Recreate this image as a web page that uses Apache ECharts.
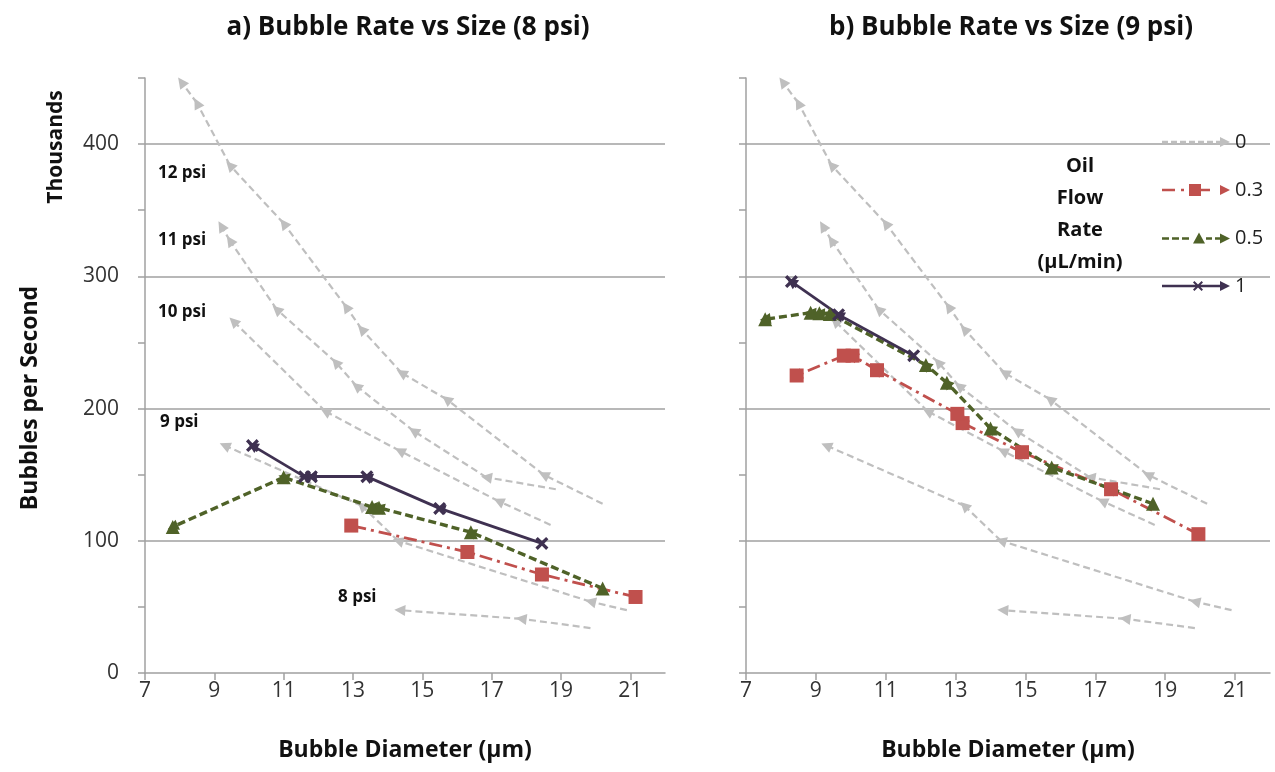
<!DOCTYPE html>
<html>
<head>
<meta charset="utf-8">
<title>Bubble Rate vs Size</title>
<script src="https://cdn.jsdelivr.net/npm/echarts@6/dist/echarts.min.js"></script>
<style>
  html, body { margin: 0; padding: 0; background: #fff; }
  #chart { width: 1275px; height: 772px; }
</style>
</head>
<body>
<div id="chart"></div>
<script>
const FONT = '"Open Sans", Lato, sans-serif'

const xTickValues = [7, 9, 11, 13, 15, 17, 19, 21]
const yLabelValues = [0, 100, 200, 300, 400]
const yTickValues = [0, 50, 100, 150, 200, 250, 300, 350, 400, 450]

// 0 uL/min reference runs (same in both panels), points in drawing order (arrow at each later point)
const psi12 = [[20.2, 128], [18.5, 150], [15.7, 207], [14.4, 227], [13.25, 260], [12.8, 277], [11.0, 340], [9.45, 384], [8.5, 431], [8.05, 447]]
const psi11 = [[18.85, 139], [16.85, 148], [14.75, 183], [13.1, 217], [12.5, 235], [10.8, 275], [9.45, 327], [9.2, 338]]
const psi10 = [[18.7, 112], [17.2, 130], [14.35, 168], [12.2, 198], [9.55, 266]]
const psi9 = [[20.9, 47.5], [19.85, 54], [14.3, 100], [13.25, 126.5], [9.3, 172]]
const psi8 = [[19.85, 34], [17.85, 41], [14.35, 47.5]]

// a) 8 psi
const oil03At8 = [[21.15, 57.5], [18.45, 74.5], [16.3, 91.5], [12.95, 111.5]]
const oil05At8 = [[20.2, 64], [16.4, 106.5], [13.75, 125], [13.55, 125.5], [11.0, 148], [7.8, 110.5]]
const oil1At8 = [[18.45, 98], [15.5, 124.5], [13.4, 148.5], [11.8, 148.5], [11.6, 148.5], [10.1, 172]]

// b) 9 psi
const oil03At9 = [[19.95, 105], [17.45, 139], [14.9, 167], [13.2, 189], [13.05, 196], [10.75, 229], [10.05, 240], [9.8, 240], [8.45, 225]]
const oil05At9 = [[18.65, 128], [15.75, 155.5], [14.0, 185], [12.75, 219.5], [12.15, 233], [9.4, 271.5], [9.1, 272], [8.85, 272.5], [7.55, 267.5]]
const oil1At9 = [[11.8, 240], [9.65, 271], [8.3, 296]]

const psiLabels = ['12 psi', '11 psi', '10 psi', '9 psi', '8 psi']

const GRAY = '#bfbfbf'
const RED = '#c0504d'
const GREEN = '#4f6228'
const PURPLE = '#3f3151'
const AXIS = '#a0a0a0'
const INK = '#111'

const X_MARK = 'path://M0,1.8L1.8,0L5,3.2L8.2,0L10,1.8L6.8,5L10,8.2L8.2,10L5,6.8L1.8,10L0,8.2L3.2,5Z'

// legend icons, drawn in a 68x14 box
const ICON_0 = 'path://M0,5.8h6v2.4h-6zM9,5.8h6v2.4h-6zM18,5.8h6v2.4h-6zM27,5.8h6v2.4h-6zM36,5.8h6v2.4h-6zM45,5.8h6v2.4h-6zM54,5.8h4v2.4h-4zM58,2L68,7L58,12z'
const ICON_03 = 'path://M0,5.8h13v2.4h-13zM19,5.8h3v2.4h-3zM27,1h12v12h-12zM39,5.8h9v2.4h-9zM58,2L68,7L58,12z'
const ICON_05 = 'path://M0,5.8h7v2.4h-7zM10,5.8h7v2.4h-7zM20,5.8h7v2.4h-7zM31,12L37,1L43,12zM44,5.8h6v2.4h-6zM53,5.8h5v2.4h-5zM58,2L68,7L58,12z'
const ICON_1 = 'path://M0,5.8h58v2.4h-58zM31,3.4L32.4,2L36,5.6L39.6,2L41,3.4L37.4,7L41,10.6L39.6,12L36,8.4L32.4,12L31,10.6L34.6,7zM58,2L68,7L58,12z'

function segments(points) {
  const out = []
  for (let i = 1; i < points.length; i++) out.push({ coords: [points[i - 1], points[i]] })
  return out
}

function arrowLines(name, runs, idx, color, width, dash, z) {
  return {
    type: 'lines', name, coordinateSystem: 'cartesian2d',
    xAxisIndex: idx, yAxisIndex: idx,
    data: runs.flatMap(segments),
    symbol: ['none', 'triangle'], symbolSize: 11,
    lineStyle: { color, width, type: dash, opacity: 1 },
    silent: true, z
  }
}

function markers(name, points, idx, symbol, color, size) {
  return {
    type: 'scatter', name, xAxisIndex: idx, yAxisIndex: idx,
    data: points, symbol, symbolSize: size,
    itemStyle: { color, opacity: 1 }, silent: true, z: 5
  }
}

const grayRuns = [psi12, psi11, psi10, psi9, psi8]

function xAxisFor(idx) {
  return {
    type: 'value', gridIndex: idx, min: 7, max: 22,
    name: 'Bubble Diameter (µm)', nameLocation: 'middle', nameGap: 66,
    nameTextStyle: { fontFamily: FONT, fontWeight: 'bold', fontSize: 23, color: INK },
    axisLine: { onZero: false, lineStyle: { color: AXIS, width: 1.5 } },
    axisTick: { customValues: xTickValues, length: 7, lineStyle: { color: AXIS, width: 1.5 } },
    axisLabel: { customValues: xTickValues, fontFamily: FONT, fontSize: 21, color: '#333', margin: 8 },
    splitLine: { show: false }
  }
}

// main value axis: labels and gridlines every 100
function yAxisFor(idx) {
  return {
    type: 'value', gridIndex: idx, min: 0, max: 450, interval: 100, position: 'left',
    axisLine: { show: true, lineStyle: { color: AXIS, width: 1.5 } },
    axisTick: { show: false },
    axisLabel: { show: idx === 0, customValues: yLabelValues, fontFamily: FONT, fontSize: 21, color: '#333', margin: 26 },
    splitLine: { show: true, showMinLine: false, showMaxLine: false, lineStyle: { color: AXIS, width: 1.5 } }
  }
}

// companion axis on the same grid, only for the tick marks every 50
function yTickAxisFor(idx) {
  return {
    type: 'value', gridIndex: idx, min: 0, max: 450, position: 'left',
    axisLine: { show: false },
    axisTick: { show: true, customValues: yTickValues, length: 7, lineStyle: { color: AXIS, width: 1.5 } },
    axisLabel: { show: false },
    splitLine: { show: false }
  }
}

const chart = echarts.init(document.getElementById('chart'))

chart.setOption({
  animation: false,
  backgroundColor: '#fff',
  grid: [
    { left: 145, top: 78, width: 520, height: 595 },
    { left: 746, top: 78, width: 524, height: 595 }
  ],
  xAxis: [xAxisFor(0), xAxisFor(1)],
  yAxis: [yAxisFor(0), yAxisFor(1), yTickAxisFor(0), yTickAxisFor(1)],
  legend: {
    orient: 'vertical', left: 1157, top: 127,
    itemWidth: 68, itemHeight: 14, itemGap: 28,
    textStyle: { fontFamily: FONT, fontSize: 20, lineHeight: 20, color: '#222' },
    data: [
      { name: '0', icon: ICON_0, itemStyle: { color: GRAY, borderWidth: 0 } },
      { name: '0.3', icon: ICON_03, itemStyle: { color: RED, borderWidth: 0 } },
      { name: '0.5', icon: ICON_05, itemStyle: { color: GREEN, borderWidth: 0 } },
      { name: '1', icon: ICON_1, itemStyle: { color: PURPLE, borderWidth: 0 } }
    ]
  },
  graphic: [
    { type: 'text', x: 408, y: 28, style: { text: 'a) Bubble Rate vs Size (8 psi)', font: 'bold 26px ' + FONT, fill: INK, textAlign: 'center', textVerticalAlign: 'middle' } },
    { type: 'text', x: 1011, y: 28, style: { text: 'b) Bubble Rate vs Size (9 psi)', font: 'bold 26px ' + FONT, fill: INK, textAlign: 'center', textVerticalAlign: 'middle' } },
    { type: 'text', x: 30, y: 398, rotation: Math.PI / 2, style: { text: 'Bubbles per Second', font: 'bold 23px ' + FONT, fill: INK, textAlign: 'center', textVerticalAlign: 'middle' } },
    { type: 'text', x: 56, y: 147, rotation: Math.PI / 2, style: { text: 'Thousands', font: 'bold 21px ' + FONT, fill: INK, textAlign: 'center', textVerticalAlign: 'middle' } },
    { type: 'text', x: 158, y: 173, style: { text: psiLabels[0], font: 'bold 17px ' + FONT, fill: INK, textVerticalAlign: 'middle' } },
    { type: 'text', x: 158, y: 240, style: { text: psiLabels[1], font: 'bold 17px ' + FONT, fill: INK, textVerticalAlign: 'middle' } },
    { type: 'text', x: 158, y: 312, style: { text: psiLabels[2], font: 'bold 17px ' + FONT, fill: INK, textVerticalAlign: 'middle' } },
    { type: 'text', x: 160, y: 422, style: { text: psiLabels[3], font: 'bold 17px ' + FONT, fill: INK, textVerticalAlign: 'middle' } },
    { type: 'text', x: 338, y: 597, style: { text: psiLabels[4], font: 'bold 17px ' + FONT, fill: INK, textVerticalAlign: 'middle' } },
    { type: 'text', x: 1080, y: 214, style: { text: 'Oil\nFlow\nRate\n(µL/min)', font: 'bold 20px ' + FONT, lineHeight: 32, fill: INK, textAlign: 'center', textVerticalAlign: 'middle' } }
  ],
  series: [
    arrowLines('0', grayRuns, 0, GRAY, 2.2, [7, 4], 2),
    arrowLines('0', grayRuns, 1, GRAY, 2.2, [7, 4], 2),
    arrowLines('0.3', [oil03At8], 0, RED, 2.8, [13, 5, 3, 5], 3),
    arrowLines('0.3', [oil03At9], 1, RED, 2.8, [13, 5, 3, 5], 3),
    arrowLines('0.5', [oil05At8], 0, GREEN, 3.4, [8, 4], 3),
    arrowLines('0.5', [oil05At9], 1, GREEN, 3.4, [8, 4], 3),
    arrowLines('1', [oil1At8], 0, PURPLE, 2.8, 'solid', 4),
    arrowLines('1', [oil1At9], 1, PURPLE, 2.8, 'solid', 4),
    markers('0.3', oil03At8, 0, 'rect', RED, 14),
    markers('0.3', oil03At9, 1, 'rect', RED, 14),
    markers('0.5', oil05At8, 0, 'triangle', GREEN, 14),
    markers('0.5', oil05At9, 1, 'triangle', GREEN, 14),
    markers('1', oil1At8, 0, X_MARK, PURPLE, 13),
    markers('1', oil1At9, 1, X_MARK, PURPLE, 13)
  ]
})
</script>
</body>
</html>
